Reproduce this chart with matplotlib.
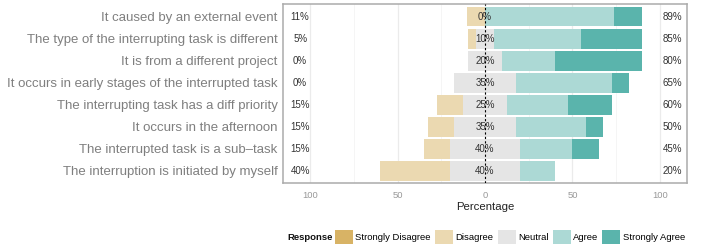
import matplotlib
matplotlib.use("Agg")
import matplotlib.pyplot as plt
from matplotlib.patches import Patch
import numpy as np

plt.rcParams['font.family'] = ['Liberation Sans', 'DejaVu Sans']

items = [
    "It caused by an external event",
    "The type of the interrupting task is different",
    "It is from a different project",
    "It occurs in early stages of the interrupted task",
    "The interrupting task has a diff priority",
    "It occurs in the afternoon",
    "The interrupted task is a sub\u2013task",
    "The interruption is initiated by myself",
]
levels = ["Strongly Disagree", "Disagree", "Neutral", "Agree", "Strongly Agree"]
strongly_disagree = [0, 0, 0, 0, 0, 0, 0, 0]
disagree = [10.5, 5, 0, 0, 15, 15, 15, 40]
neutral = [0, 10, 20, 35, 25, 35, 40, 40]
agree = [73.7, 50, 30, 55, 35, 40, 30, 20]
strongly_agree = [15.8, 35, 50, 10, 25, 10, 15, 0]
low_labels = ["11%", "5%", "0%", "0%", "15%", "15%", "15%", "40%"]
mid_labels = ["0%", "10%", "20%", "35%", "25%", "35%", "40%", "40%"]
high_labels = ["89%", "85%", "80%", "65%", "60%", "50%", "45%", "20%"]
xticks = [-100, -50, 0, 50, 100]
xtick_labels = ["100", "50", "0", "50", "100"]

colors = ["#D8B365", "#EBD9B1", "#E5E5E5", "#ACD9D5", "#5AB4AC"]

fig = plt.figure(figsize=(7.01, 2.48), dpi=100)
ax = fig.add_axes([283/701, 1-183/248, (687-283)/701, (183-4)/248])

y = np.arange(len(items))
sd = np.array(strongly_disagree, float)
d = np.array(disagree, float)
n = np.array(neutral, float)
a = np.array(agree, float)
sa = np.array(strongly_agree, float)

h = 0.9
ax.barh(y, -n/2, height=h, color=colors[2], zorder=2)
ax.barh(y, n/2, height=h, color=colors[2], zorder=2)
ax.barh(y, -d, left=-n/2, height=h, color=colors[1], zorder=2)
ax.barh(y, -sd, left=-n/2-d, height=h, color=colors[0], zorder=2)
ax.barh(y, a, left=n/2, height=h, color=colors[3], zorder=2)
ax.barh(y, sa, left=n/2+a, height=h, color=colors[4], zorder=2)

for i in range(len(items)):
    ax.text(-105.7, y[i], low_labels[i], ha='center', va='center', fontsize=7, color='#333333', zorder=4)
    ax.text(0, y[i], mid_labels[i], ha='center', va='center', fontsize=7, color='#333333', zorder=4)
    ax.text(107, y[i], high_labels[i], ha='center', va='center', fontsize=7, color='#333333', zorder=4)

ax.axvline(0, color='black', linestyle=(0, (2, 2)), lw=0.8, zorder=3)

ax.set_xlim(-115.5, 115.5)
ax.set_ylim(len(items) - 0.45, -0.57)
ax.set_yticks(y)
ax.set_yticklabels(items, fontsize=9.5, color='#7F7F7F')
ax.set_xticks(xticks)
ax.set_xticklabels(xtick_labels, fontsize=6.8, color='#999999')
ax.set_xticks([-75, -25, 25, 75], minor=True)
ax.tick_params(axis='both', which='both', length=0, pad=4)
ax.tick_params(axis='x', pad=6)
ax.grid(axis='x', which='major', color='#EBEBEB', lw=0.9, zorder=0)
ax.grid(axis='x', which='minor', color='#F2F2F2', lw=0.5, zorder=0)
ax.set_axisbelow(True)
for s in ax.spines.values():
    s.set_color('#ABABAB')
    s.set_linewidth(1.1)
ax.set_xlabel("Percentage", fontsize=8.2, color='#222222', labelpad=1)

handles = [Patch(facecolor=c, edgecolor='none') for c in colors]
leg = fig.legend(handles, levels, loc='center', bbox_to_anchor=(510/701, 1-237/248),
                 ncol=5, frameon=False, fontsize=6.8, handlelength=1.9, handleheight=1.9,
                 handletextpad=0.25, columnspacing=0.45, borderpad=0, borderaxespad=0)
fig.text(287/701, 1-237/248, "Response", fontsize=6.8, fontweight='bold', ha='left', va='center', color='#111111')

fig.savefig("out.png", dpi=100)
